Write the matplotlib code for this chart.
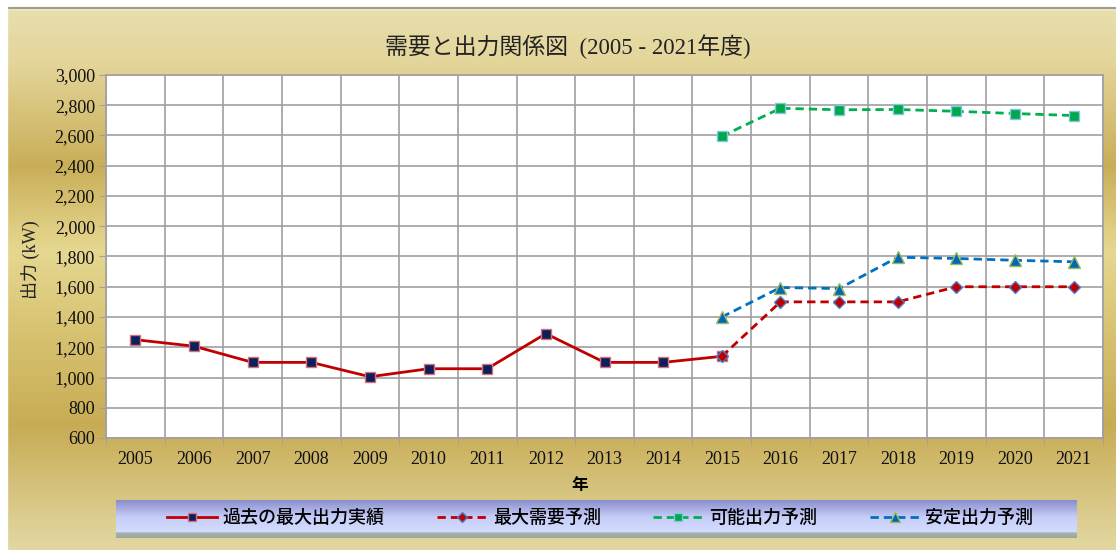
import numpy as np
import matplotlib.pyplot as plt
from matplotlib.colors import LinearSegmentedColormap
from matplotlib.patches import Rectangle

years = [str(y) for y in range(2005, 2022)]

actual_years = years[:11]
actual = [1250, 1207, 1100, 1100, 1005, 1058, 1058, 1290, 1100, 1100, 1140]

fc_years = years[10:]
demand = [1140, 1500, 1500, 1500, 1600, 1600, 1600]
possible = [2595, 2780, 2770, 2772, 2760, 2745, 2732]
stable = [1400, 1595, 1588, 1795, 1787, 1775, 1765]

labels = ['過去の最大出力実績', '最大需要予測', '可能出力予測', '安定出力予測']
yticks = list(range(600, 3001, 200))

W, H = 1116, 550
serif_jp = ['Liberation Serif', 'Noto Sans CJK JP']
sans_jp = ['Noto Sans CJK JP', 'DejaVu Sans']

fig = plt.figure(figsize=(W / 100, H / 100), dpi=100)

# background gradient
bg = fig.add_axes([0, 0, 1, 1], zorder=0)
stops = [(0.0, '#ffffff'), (0.014, '#ffffff'), (0.016, '#e8dfae'), (0.11, '#e4d59a'),
         (0.30, '#c9ae58'), (0.455, '#e6d891'), (0.60, '#d8c372'), (0.775, '#c8ac55'),
         (1.0, '#e2d7a2')]
cmap = LinearSegmentedColormap.from_list('gold', stops)
bg.imshow(np.linspace(0, 1, 300).reshape(-1, 1), aspect='auto', cmap=cmap,
          extent=[0, W, H, 0])
bg.add_patch(Rectangle((7, 8), W, H, fill=False, edgecolor='#a09c8c', lw=1.5))
bg.add_patch(Rectangle((0, 0), 7, H, color='white'))
bg.set_xlim(0, W)
bg.set_ylim(H, 0)
bg.axis('off')

# legend box gradient
lx0, lx1, ly0, ly1 = 116, 1077, 500, 538
lg = fig.add_axes([lx0 / W, 1 - ly1 / H, (lx1 - lx0) / W, (ly1 - ly0) / H], zorder=1)
lcmap = LinearSegmentedColormap.from_list('lav', [(0, '#8a8ecb'), (0.45, '#c6cdf8'),
                                                  (0.85, '#d4dcff'), (0.86, '#a6b4ae'),
                                                  (1.0, '#98a8a0')])
lg.imshow(np.linspace(0, 1, 100).reshape(-1, 1), aspect='auto', cmap=lcmap, extent=[0, 1, 1, 0])
lg.axis('off')

# main plot
px0, px1, py0, py1 = 106, 1103, 75, 438
ax = fig.add_axes([px0 / W, 1 - py1 / H, (px1 - px0) / W, (py1 - py0) / H], zorder=2)
ax.set_facecolor('white')

x_all = np.arange(len(years))
xa = [years.index(y) for y in actual_years]
xf = [years.index(y) for y in fc_years]

l1, = ax.plot(xa, actual, color='#c00000', lw=2, marker='s', ms=6.5,
              mfc='#0a1f5c', mec='#d8707c', mew=1, zorder=5)
l2, = ax.plot(xf, demand, color='#c00000', lw=2, ls=(0, (3, 1.8)), marker='D', ms=6,
              mfc='#c00000', mec='#4a80d0', mew=1, zorder=5)
l3, = ax.plot(xf, possible, color='#00b050', lw=2, ls=(0, (3, 1.8)), marker='s', ms=6.5,
              mfc='#00a84c', mec='#80c8e0', mew=1, zorder=5)
l4, = ax.plot(xf, stable, color='#0070c0', lw=2, ls=(0, (3, 1.8)), marker='^', ms=8,
              mfc='#0068b8', mec='#9bbb59', mew=1, zorder=5)

ax.set_xlim(-0.5, len(years) - 0.5)
ax.set_ylim(600, 3000)
ax.set_yticks(yticks)
ax.set_yticklabels([f'{v:,}' for v in yticks], fontfamily='Liberation Serif', fontsize=13)
ax.set_xticks(x_all)
ax.set_xticklabels(years, fontfamily='Liberation Serif', fontsize=13)
ax.set_xticks(np.arange(-0.5, len(years)), minor=True)
ax.tick_params(axis='x', which='major', length=0, pad=9)
ax.tick_params(axis='x', which='minor', length=5, color='#a0a0a0', direction='out')
ax.tick_params(axis='y', length=5, color='#a0a0a0', pad=3, labelcolor='#111111')
ax.tick_params(axis='x', labelcolor='#111111')
ax.grid(axis='y', which='major', color='#a0a0a0', lw=1.2)
ax.grid(axis='x', which='minor', color='#a0a0a0', lw=1.2)
ax.set_axisbelow(True)
for s in ax.spines.values():
    s.set_color('#a0a0a0')
    s.set_linewidth(1.2)

fig.text(568 / W, 1 - 47 / H, '需要と出力関係図  (2005 - 2021年度)', ha='center', va='center',
         family=serif_jp, fontsize=16.5, color='#222222')
fig.text(30 / W, 1 - 260 / H, '出力 (kW)', ha='center', va='center', rotation=90,
         family=serif_jp, fontsize=13, color='#222222')
fig.text(580 / W, 1 - 485 / H, '年', ha='center', va='center', family=sans_jp,
         fontweight='bold', fontsize=12, color='black')

leg = fig.legend([l1, l2, l3, l4], labels, loc='center', ncol=4, frameon=False,
                 bbox_to_anchor=(600 / W, 1 - (ly0 + 18) / H),
                 prop={'family': sans_jp, 'size': 13, 'weight': 'medium'},
                 handlelength=2.8, numpoints=1, columnspacing=2.9, handletextpad=0.3,
                 markerscale=0.85)
leg.set_zorder(3)

fig.savefig('out.png', dpi=100)
